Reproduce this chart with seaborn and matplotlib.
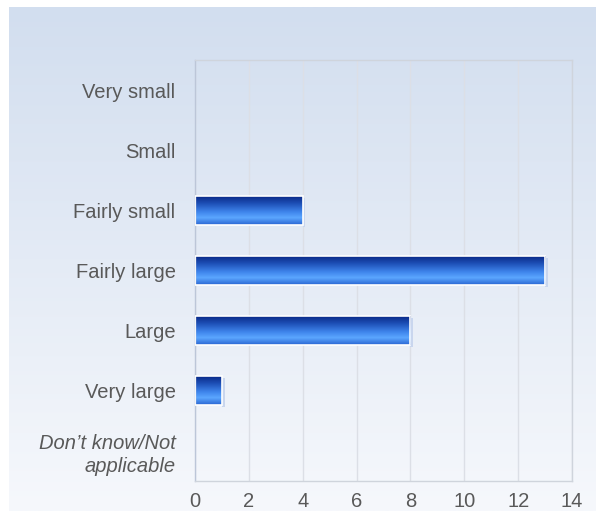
import numpy as np
import pandas as pd
import seaborn as sns
import matplotlib.pyplot as plt
from matplotlib.colors import LinearSegmentedColormap

categories = [
    "Very small",
    "Small",
    "Fairly small",
    "Fairly large",
    "Large",
    "Very large",
    "Don\u2019t know/Not\napplicable",
]
counts = [0, 0, 4, 13, 8, 1, 0]
x_ticks = [0, 2, 4, 6, 8, 10, 12, 14]

df = pd.DataFrame({"category": categories, "count": counts})

sns.set_theme(style="white")
plt.rcParams["font.family"] = ["Liberation Sans", "DejaVu Sans"]

fig = plt.figure(figsize=(5.96, 5.11), dpi=100)
fig.patch.set_facecolor("white")

# background panel with soft blue gradient
bg = fig.add_axes([9 / 596, 0, 1 - 9 / 596, 1 - 7 / 511], zorder=-10)
bg_cmap = LinearSegmentedColormap.from_list("bg", ["#d2deef", "#f6f8fc"])
bg.imshow(np.linspace(0, 1, 256).reshape(-1, 1), aspect="auto", cmap=bg_cmap,
          extent=[0, 1, 0, 1], origin="upper")
bg.set_axis_off()

ax = fig.add_axes([195 / 596, 1 - 481 / 511, 377 / 596, 421 / 511])
ax.set_facecolor("none")

sns.barplot(data=df, y="category", x="count", ax=ax, orient="h",
            width=0.48, color="#2a62cc", saturation=1)

bar_cmap = LinearSegmentedColormap.from_list(
    "bar", [(0.0, "#0a2a88"), (0.25, "#1d4fb6"), (0.55, "#3f85ec"),
            (0.75, "#5ba6ff"), (1.0, "#2a66d2")])
grad = np.linspace(0, 1, 100).reshape(-1, 1)

for patch in list(ax.patches):
    w = patch.get_width()
    if w <= 0:
        patch.set_visible(False)
        continue
    y0 = patch.get_y()
    h = patch.get_height()
    # faint shadow on the right
    ax.add_patch(plt.Rectangle((w, y0 + 0.03), 0.1, h, color="#c9d6ee",
                               lw=0, zorder=1.5))
    ax.imshow(grad, aspect="auto", cmap=bar_cmap, origin="upper",
              extent=[0, w, y0 + h, y0], zorder=2)
    patch.set_facecolor("none")
    patch.set_edgecolor("white")
    patch.set_linewidth(1.2)
    patch.set_zorder(3)

ax.set_xlim(0, 14)
ax.set_ylim(len(categories) - 0.5, -0.5)
ax.set_xticks(x_ticks)
ax.set_xlabel("")
ax.set_ylabel("")
ax.grid(axis="x", color="#dcdfe6", linewidth=1)
ax.set_axisbelow(True)
ax.tick_params(axis="both", length=0, labelsize=14.5, labelcolor="#595959")
ax.tick_params(axis="y", pad=14)
ax.tick_params(axis="x", pad=8)
for s in ax.spines.values():
    s.set_color("#cfd4dc")
    s.set_linewidth(1)
ax.spines["left"].set_color("#bcc6d8")

ax.set_yticks(range(len(categories)))
ax.set_yticklabels(categories, linespacing=1.3)
ax.get_yticklabels()[-1].set_fontstyle("italic")

fig.savefig("out.png", dpi=100)
